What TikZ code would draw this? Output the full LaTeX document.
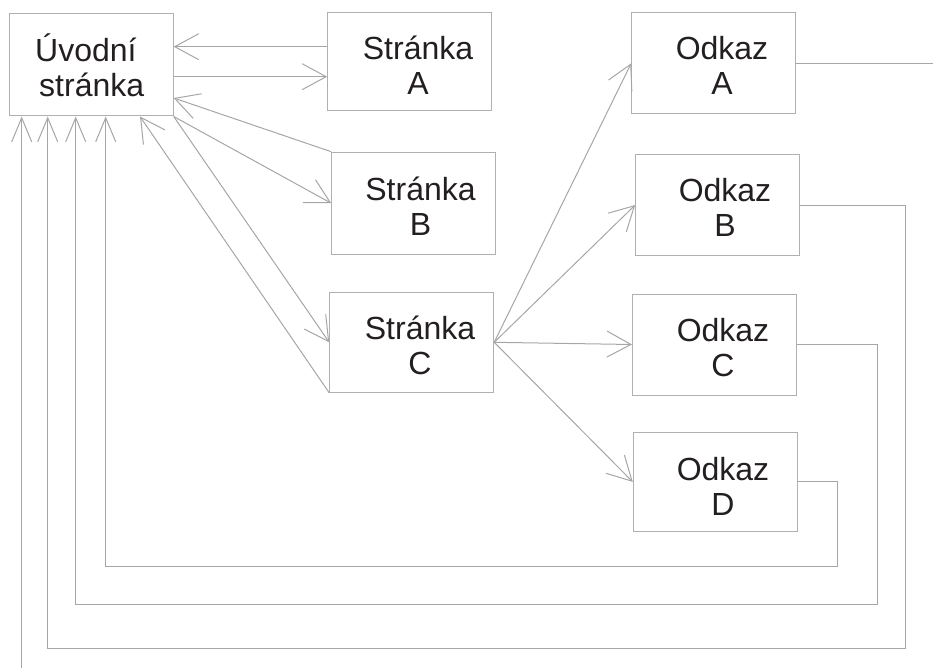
\documentclass[tikz,border=0pt]{standalone}
\usepackage{fontspec}
\setmainfont{Liberation Sans}
\usetikzlibrary{arrows.meta}
\definecolor{edgegray}{HTML}{A6A6A6}
\definecolor{boxgray}{HTML}{B0B0B0}
\definecolor{ink}{HTML}{231F20}
\begin{document}
\begin{tikzpicture}[x=1bp,y=-1bp,
  pagebox/.style={draw=boxgray, line width=1bp, rectangle, inner sep=0pt},
  txt/.style={font=\fontsize{32bp}{35bp}\selectfont, text=ink, inner sep=0pt},
  link/.style={draw=edgegray, line width=1bp},
  arr/.style={link, -{Straight Barb[length=24bp, width=26bp]}},
  uparr/.style={link, -{Straight Barb[length=24bp, width=20bp]}}]
\useasboundingbox (0,0) rectangle (933,668);

% pages
\node[pagebox, minimum width=164bp, minimum height=102bp] (uvod) at (91.2,65) {};
\node[pagebox, minimum width=164bp, minimum height=98bp]  (sA) at (409.7,61.8) {};
\node[pagebox, minimum width=164bp, minimum height=102bp] (sB) at (413.7,203.2) {};
\node[pagebox, minimum width=164bp, minimum height=100bp] (sC) at (411.7,342.3) {};
\node[pagebox, minimum width=164bp, minimum height=101bp] (oA) at (713.7,63.3) {};
\node[pagebox, minimum width=164bp, minimum height=101bp] (oB) at (717.7,205) {};
\node[pagebox, minimum width=164bp, minimum height=101bp] (oC) at (714.5,344.5) {};
\node[pagebox, minimum width=164bp, minimum height=99bp]  (oD) at (715.3,481.9) {};

% labels (anchored at the baseline of the second line)
\node[txt, align=left, anchor=base west] (tU) at (35,96.7) {Úvodní\\\hspace*{4bp}stránka};
\node[txt, align=center, anchor=base] (tA) at (418,94.3) {Stránka\\A};
\node[txt, align=center, anchor=base] (tB) at (420.5,235) {Stránka\\B};
\node[txt, align=center, anchor=base] (tC) at (420,374) {Stránka\\C};
\node[txt, align=center, anchor=base] (tOA) at (722,95) {Odkaz\\A};
\node[txt, align=center, anchor=base] (tOB) at (725,236.5) {Odkaz\\B};
\node[txt, align=center, anchor=base] (tOC) at (723,376) {Odkaz\\C};
\node[txt, align=center, anchor=base] (tOD) at (723,515) {Odkaz\\D};

% home <-> pages
\draw[arr] (sA.west |- 0,46.7) -- (uvod.east |- 0,46.7);
\draw[arr] (uvod.east |- 0,76.7) -- (sA.west |- 0,76.7);
\draw[arr] (sB.north west) -- (uvod.east |- 0,98);
\draw[arr] (uvod.south east) -- (sB.west);
\draw[arr] (uvod.south east) -- (sC.west);
\draw[arr] (sC.south west) -- (uvod.south -| 140,0);

% page C -> links
\draw[arr] (sC.east) -- (oA.west);
\draw[arr] (sC.east) -- (oB.west);
\draw[arr] (sC.east) -- (oC.west);
\draw[arr] (sC.east) -- (oD.west);

% links back to home
\coordinate (dTurn) at (837,566);
\coordinate (cTurn) at (877,604);
\coordinate (bTurn) at (905,648);
\draw[uparr] (oD.east) -| (dTurn) -| (uvod.south -| 105.7,0);
\draw[uparr] (oC.east) -| (cTurn) -| (uvod.south -| 75.7,0);
\draw[uparr] (oB.east) -| (bTurn) -| (uvod.south -| 47.7,0);

% link A leaves on the right and returns from below
\coordinate (wrapOut) at (933,63.3);
\coordinate (wrapIn) at (21.7,668);
\draw[link] (oA.east) -- (wrapOut);
\draw[uparr] (wrapIn) -- (uvod.south -| 21.7,0);
\end{tikzpicture}
\end{document}
